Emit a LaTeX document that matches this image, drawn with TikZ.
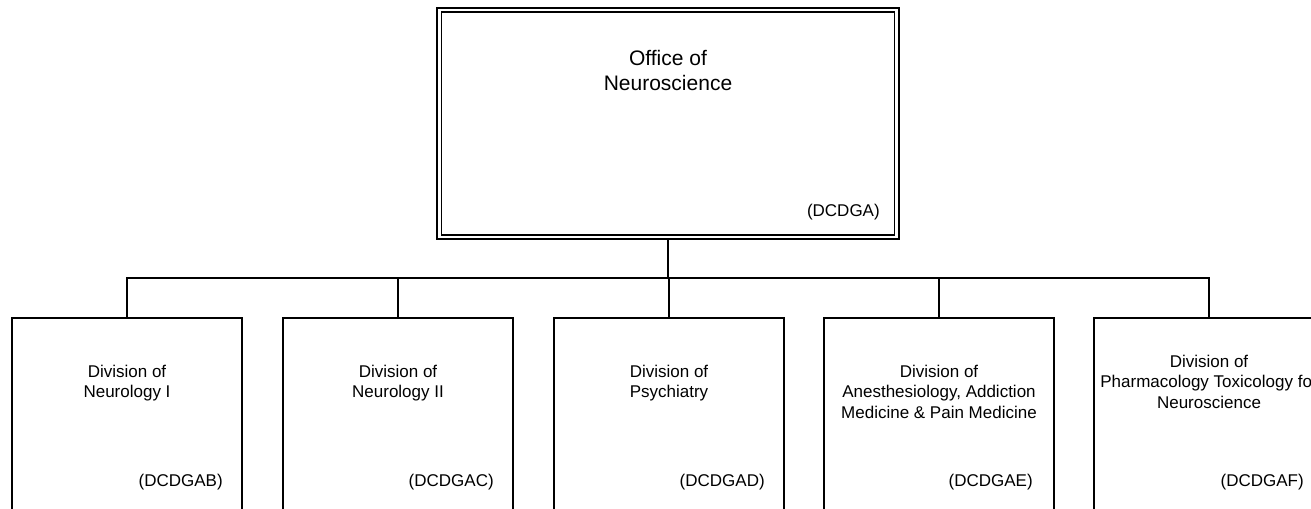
\documentclass[tikz,border=0pt]{standalone}
\usepackage{fontspec}
\setmainfont{Liberation Sans}
\usepackage{xcolor}
\usepackage{tikz}
\usetikzlibrary{positioning}

\tikzset{
  offbox/.style={draw, double, line width=1.2pt, double distance=2pt, outer sep=2pt, inner sep=0pt, minimum width=342.9pt, minimum height=170.4pt},
  divbox/.style={draw, line width=1.3pt, inner sep=0pt, minimum width=172.6pt, minimum height=181.5pt},
  bigtitle/.style={align=center, inner sep=0pt, font=\fontsize{15.75}{18.75}\selectfont},
  divtitle/.style={align=center, inner sep=0pt, font=\fontsize{12.75}{15.4}\selectfont},
  code/.style={inner sep=0pt, anchor=base east, font=\fontsize{12.75}{15.4}\selectfont},
  link/.style={draw, line width=1.3pt}
}

\begin{document}
\begin{tikzpicture}[x=0.75pt, y=-0.75pt]
    \useasboundingbox (0,0) rectangle (1311,509);
    \clip (0,0) rectangle (1311,509);

    % Office
    \node[offbox] (ons) at (668,123.5) {};
    \node[bigtitle, below=32.4pt of ons.north] (onst) {Office of\\Neuroscience};
    \node[code] (onsc) at (880,217) {(DCDGA)};

    % Divisions
    \node[divbox] (d1) at (127,439) {};
    \node[divbox] (d2) at (398,439) {};
    \node[divbox] (d3) at (669,439) {};
    \node[divbox] (d4) at (939,439) {};
    \node[divbox] (d5) at (1209,439) {};

    \node[divtitle, below=35.6pt of d1.north] (d1t) {Division of\\Neurology I};
    \node[divtitle, below=35.6pt of d2.north] (d2t) {Division of\\Neurology II};
    \node[divtitle, below=35.6pt of d3.north] (d3t) {Division of\\Psychiatry};
    \node[divtitle, below=35.6pt of d4.north] (d4t) {Division of\\Anesthesiology, Addiction\\Medicine \& Pain Medicine};
    \node[divtitle, below=28.1pt of d5.north] (d5t) {Division of\\Pharmacology Toxicology for\\Neuroscience};

    \node[code] (d1c) at (223,487) {(DCDGAB)};
    \node[code] (d2c) at (494,487) {(DCDGAC)};
    \node[code] (d3c) at (765,487) {(DCDGAD)};
    \node[code] (d4c) at (1033,487) {(DCDGAE)};
    \node[code] (d5c) at (1304,487) {(DCDGAF)};

    % Connectors
    \coordinate (bus) at (0,278);
    \draw[link] (ons.south) -- (ons.south |- bus);
    \draw[link] (d1.north) -- (d1.north |- bus) -- (d5.north |- bus) -- (d5.north);
    \foreach \d in {d2,d3,d4}{
        \draw[link] (\d.north |- bus) -- (\d.north);
    }
\end{tikzpicture}
\end{document}
